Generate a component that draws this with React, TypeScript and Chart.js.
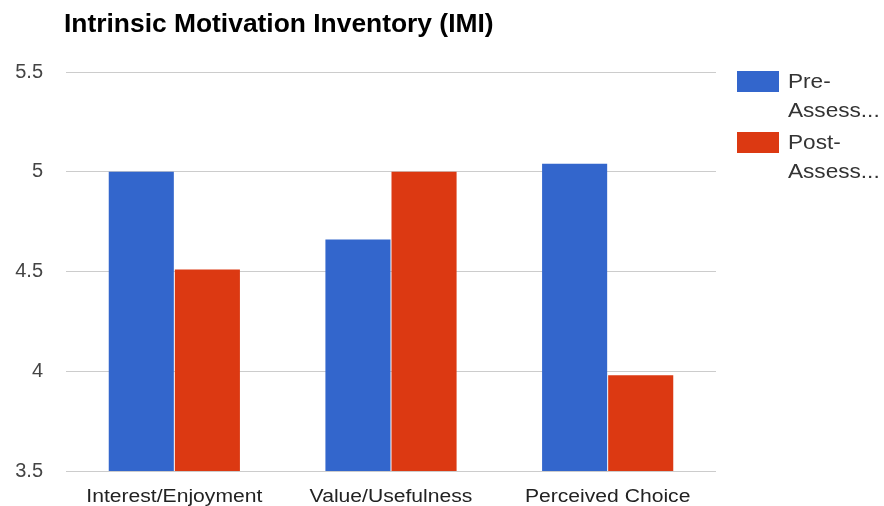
import React, { useEffect, useRef } from "react";
import { Chart, registerables } from "chart.js";

Chart.register(...registerables);

const categories = ["Interest/Enjoyment", "Value/Usefulness", "Perceived Choice"];
const preValues = [5.0, 4.66, 5.04];
const postValues = [4.51, 5.0, 3.98];
const seriesNames = ["Pre-Assessment", "Post-Assessment"];
const legendLines = [["Pre-", "Assess..."], ["Post-", "Assess..."]];
const yTicks = [3.5, 4, 4.5, 5, 5.5];
const titleText = "Intrinsic Motivation Inventory (IMI)";

const BLUE = "#3366cc";
const RED = "#dc3912";
const FONT = "'Liberation Sans', Arial, sans-serif";
const STRETCH = 1.13;

function stretchedText(ctx: CanvasRenderingContext2D, text: string, x: number, y: number, align: "left" | "center") {
  ctx.save();
  ctx.translate(x, y);
  ctx.scale(STRETCH, 1);
  ctx.textAlign = align;
  ctx.fillText(text, 0, 0);
  ctx.restore();
}

const overlayPlugin = {
  id: "overlay",
  afterDraw(chart: any) {
    const ctx = chart.ctx as CanvasRenderingContext2D;
    ctx.save();
    ctx.textBaseline = "alphabetic";
    // title
    ctx.fillStyle = "#000";
    ctx.font = `bold 26.4px ${FONT}`;
    ctx.textAlign = "left";
    ctx.fillText(titleText, 64, 32);
    // x labels
    ctx.fillStyle = "#222";
    ctx.font = `18.7px ${FONT}`;
    const xs = chart.scales.x;
    categories.forEach((c, i) => {
      stretchedText(ctx, c, xs.getPixelForValue(i), 501.5, "center");
    });
    // legend
    const colors = [BLUE, RED];
    const tops = [71, 132];
    ctx.font = `20px ${FONT}`;
    for (let i = 0; i < 2; i++) {
      ctx.fillStyle = colors[i];
      ctx.fillRect(737, tops[i], 42, 21);
      ctx.fillStyle = "#333";
      stretchedText(ctx, legendLines[i][0], 788, tops[i] + 17, "left");
      stretchedText(ctx, legendLines[i][1], 788, tops[i] + 45.5, "left");
    }
    ctx.restore();
  },
};

export default function App() {
  const ref = useRef<HTMLCanvasElement>(null);
  useEffect(() => {
    document.body.style.margin = "0";
    const chart = new Chart(ref.current!, {
      type: "bar",
      data: {
        labels: categories,
        datasets: [
          { label: seriesNames[0], data: preValues, backgroundColor: BLUE, categoryPercentage: 0.61, barPercentage: 0.985 },
          { label: seriesNames[1], data: postValues, backgroundColor: RED, categoryPercentage: 0.61, barPercentage: 0.985 },
        ],
      },
      options: {
        animation: false,
        responsive: false,
        layout: { padding: { left: 0, right: 168, top: 72, bottom: 0 } },
        plugins: {
          legend: { display: false },
          title: { display: false },
          tooltip: { enabled: false },
        },
        scales: {
          x: {
            grid: { display: false },
            border: { display: false },
            ticks: { display: false },
            afterFit: (s: any) => { s.height = 34; },
          },
          y: {
            min: 3.5,
            max: 5.5,
            afterBuildTicks: (s: any) => { s.ticks = yTicks.map((v) => ({ value: v })); },
            grid: { color: "#cccccc", drawTicks: false },
            border: { display: false },
            ticks: {
              color: "#444",
              font: { family: FONT, size: 20 },
              padding: 23,
              callback: (v: any) => String(v),
            },
            afterFit: (s: any) => { s.width = 66; },
          },
        },
      },
      plugins: [overlayPlugin],
    });
    return () => chart.destroy();
  }, []);
  return <canvas ref={ref} width={884} height={506} style={{ display: "block" }} />;
}
